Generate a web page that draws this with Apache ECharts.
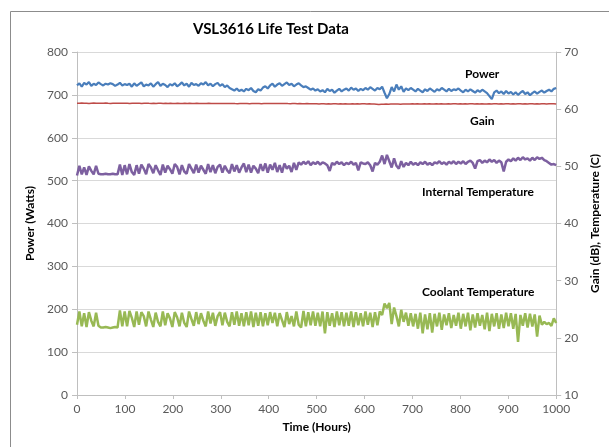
<!DOCTYPE html>
<html>
<head>
<meta charset="utf-8">
<title>VSL3616 Life Test Data</title>
<script src="https://cdn.jsdelivr.net/npm/echarts@6/dist/echarts.min.js"></script>
<style>
  html, body { margin: 0; padding: 0; background: #fff; }
  #chart { width: 609px; height: 447px; }
</style>
</head>
<body>
<div id="chart"></div>
<script>
// readings every 5 hours, 0..1000
var power = [
  722,727,719,728,724,730,721,726,723,729,725,722,726,724,727,725,721,724,728,722,725,
  723,726,719,727,721,725,729,720,724,722,727,719,725,730,721,726,723,718,725,722,
  727,720,724,729,722,726,719,728,723,725,721,727,724,730,722,726,720,725,728,721,
  725,718,722,716,713,710,715,709,712,708,714,711,716,709,706,713,710,717,720,715,
  722,726,719,724,727,721,725,729,723,726,720,724,727,722,718,720,716,712,715,710,
  713,708,711,706,714,709,712,705,710,714,708,712,715,710,717,712,715,709,714,711,
  716,712,718,714,710,716,713,719,705,692,702,718,708,724,712,720,707,715,711,716,
  712,708,714,710,706,713,709,715,711,707,713,710,716,712,708,714,709,713,711,715,
  710,706,712,708,713,709,705,711,707,712,708,704,697,690,706,710,704,708,702,709,
  703,707,701,706,700,705,709,702,706,699,704,708,703,707,710,705,709,712,708,714,716
];
var gain = [
  61.05,61.02,61.06,61.03,61.05,61.01,61.04,61.06,61.03,61.05,61.02,61.04,61.06,61.03,61.01,61.04,61.02,61.05,61.03,61.04,61.02,
  61.04,61.01,61.03,61.05,61.02,61.04,61.01,61.03,61.05,61.02,61.00,61.03,61.01,61.04,61.02,60.99,61.02,61.00,61.03,61.01,
  61.00,61.02,60.99,61.01,61.03,61.00,61.02,60.98,61.01,61.03,61.00,60.98,61.01,60.99,61.02,61.00,60.97,61.00,60.98,61.01,
  60.98,61.00,60.97,60.99,61.01,60.98,60.96,60.99,61.00,60.97,60.99,60.96,60.98,61.00,60.97,60.99,60.96,60.98,61.00,60.97,
  60.99,61.01,60.98,61.00,60.97,60.99,61.01,60.98,60.96,60.99,60.97,60.95,60.98,60.96,60.94,60.97,60.95,60.93,60.96,60.94,
  60.92,60.95,60.93,60.91,60.94,60.92,60.95,60.93,60.90,60.93,60.91,60.94,60.92,60.90,60.93,60.91,60.94,60.92,60.95,60.93,
  60.91,60.94,60.92,60.89,60.86,60.80,60.84,60.88,60.90,60.87,60.91,60.89,60.92,60.90,60.88,60.91,60.89,60.92,60.90,60.93,
  60.91,60.93,60.90,60.92,60.94,60.91,60.93,60.90,60.92,60.94,60.91,60.93,60.90,60.92,60.94,60.91,60.93,60.95,60.92,60.94,
  60.92,60.94,60.91,60.93,60.95,60.92,60.94,60.91,60.93,60.90,60.92,60.94,60.91,60.93,60.95,60.92,60.94,60.91,60.93,60.95,
  60.92,60.94,60.91,60.93,60.95,60.92,60.94,60.91,60.93,60.95,60.92,60.94,60.91,60.93,60.95,60.92,60.94,60.93,60.95,60.92
];
var internalTemp = [
  48.4,50.1,48.6,49.8,48.5,50.0,49.2,48.6,50.1,48.7,48.6,48.6,48.7,48.6,48.6,48.7,48.6,48.6,50.3,48.5,50.2,
  48.6,50.4,49.0,48.5,50.2,48.7,50.3,49.6,48.6,50.4,49.8,48.8,50.2,49.3,48.5,50.3,48.9,50.1,49.5,48.7,
  50.4,49.9,48.6,50.2,49.1,48.7,50.4,49.6,48.8,50.3,48.9,50.1,49.4,48.7,50.4,49.0,50.2,48.8,49.9,50.3,
  48.9,50.1,49.3,48.8,50.4,49.1,50.2,48.9,49.8,50.5,49.0,50.3,48.9,50.1,49.6,48.8,50.4,49.2,50.5,48.9,
  50.3,49.4,50.6,49.0,50.2,48.9,50.5,49.6,50.1,49.0,50.6,49.4,50.7,50.3,50.8,50.4,50.9,50.2,50.7,50.4,
  50.8,50.3,50.7,50.5,50.2,49.2,50.6,50.3,50.8,50.4,50.7,50.2,50.6,50.4,50.8,50.3,50.6,49.3,50.7,50.5,
  50.4,50.7,50.2,49.1,50.6,50.3,50.8,51.9,50.4,52.0,50.9,49.8,51.4,50.1,49.6,50.9,49.9,50.6,50.2,50.8,
  50.3,50.6,50.2,50.7,50.4,50.8,50.3,50.6,50.2,50.7,50.5,50.9,50.4,50.7,50.3,50.8,50.5,50.9,50.4,50.8,
  50.5,50.9,50.4,50.8,51.0,50.6,49.6,50.9,51.1,50.6,51.0,50.7,51.2,50.8,51.1,50.6,51.0,50.7,49.1,50.8,
  51.2,50.9,51.4,51.0,51.5,51.1,51.6,51.2,51.4,51.0,51.5,51.1,51.6,51.3,51.5,51.1,50.9,50.6,50.3,50.4,50.2
];
var coolantTemp = [
  22.3,24.6,22.0,24.3,21.9,24.5,23.0,22.0,24.4,22.1,21.8,21.8,21.9,21.8,21.7,21.8,21.9,21.8,24.8,22.0,24.6,
  22.0,24.7,23.5,21.9,24.6,22.3,24.5,23.8,22.0,24.6,23.2,21.9,24.4,22.8,22.0,24.6,22.2,24.3,23.4,21.9,
  24.5,23.6,22.0,24.4,22.6,21.9,24.6,23.3,22.1,24.5,22.4,24.3,23.0,22.0,24.6,22.5,24.4,22.1,23.8,24.5,
  22.2,24.4,22.8,22.0,24.5,22.3,24.6,22.1,24.3,22.0,24.5,22.2,24.6,21.9,24.4,22.1,24.5,22.0,24.3,22.2,
  24.5,22.6,24.4,22.0,24.3,23.1,21.9,24.5,22.4,23.8,22.0,24.6,22.3,21.8,24.7,22.0,24.5,22.2,24.6,22.1,
  24.4,22.0,24.6,20.8,24.5,22.1,24.3,21.9,24.6,22.2,24.5,22.0,24.4,22.1,24.6,21.9,24.5,22.2,24.3,22.0,
  24.6,22.3,24.4,21.9,24.5,22.2,24.6,24.0,26.0,25.2,26.1,22.4,25.3,23.8,22.0,24.9,22.8,24.4,22.1,24.3,
  22.0,24.2,21.6,24.4,20.8,24.1,21.5,24.3,20.9,24.2,22.0,24.4,21.4,24.1,22.2,24.3,21.7,24.0,22.1,24.4,
  21.6,24.2,22.0,24.4,21.3,24.1,21.8,24.3,22.1,24.0,21.5,24.4,21.2,24.2,22.0,24.3,21.6,24.1,21.7,24.4,
  22.0,24.3,21.6,24.2,19.3,24.0,22.1,24.3,21.8,24.2,22.0,24.1,20.2,23.9,22.3,22.8,22.4,22.6,22.1,23.4,22.6
];
var xTicks = [0, 100, 200, 300, 400, 500, 600, 700, 800, 900, 1000];
var seriesNames = ['Power', 'Gain', 'Internal Temperature', 'Coolant Temperature'];

var myChart = echarts.init(document.getElementById('chart'));

// pair each reading with its hour (even spacing over 0..1000)
function withHours(arr) {
  var last = xTicks[xTicks.length - 1];
  return arr.map(function (v, i) {
    return [i * last / (arr.length - 1), v];
  });
}

var axisText = { color: '#595959', fontSize: 12, fontFamily: 'Lato' };
var nameText = { color: '#000', fontSize: 12, fontWeight: 'bold', fontFamily: 'Lato' };
var annot = { fill: '#000', fontSize: 12, fontWeight: 'bold', fontFamily: 'Lato' };

var option = {
  animation: false,
  backgroundColor: '#fff',
  title: {
    text: 'VSL3616 Life Test Data',
    left: 188,
    top: 17,
    textStyle: { fontSize: 15, fontWeight: 'bold', color: '#000', fontFamily: 'Lato' }
  },
  grid: { left: 77, right: 48, top: 52, bottom: 52 },
  xAxis: {
    type: 'value',
    min: 0, max: 1000, interval: 100,
    name: 'Time (Hours)',
    nameLocation: 'middle',
    nameGap: 26,
    nameTextStyle: nameText,
    axisLine: { lineStyle: { color: '#bfbfbf' } },
    axisTick: { show: true, length: 4, lineStyle: { color: '#bfbfbf' } },
    axisLabel: Object.assign({ margin: 8, formatter: function (v) { return String(v); } }, axisText),
    splitLine: { show: false }
  },
  yAxis: [
    {
      type: 'value',
      min: 0, max: 800, interval: 100,
      name: 'Power (Watts)',
      nameLocation: 'middle',
      nameRotate: 90,
      nameGap: 38,
      nameTextStyle: nameText,
      axisLine: { show: true, lineStyle: { color: '#bfbfbf' } },
      axisTick: { show: true, length: 5, lineStyle: { color: '#bfbfbf' } },
      axisLabel: Object.assign({ margin: 9 }, axisText),
      splitLine: { lineStyle: { color: '#d9d9d9' } }
    },
    {
      type: 'value',
      min: 10, max: 70, interval: 10,
      name: 'Gain (dB), Temperature (C)',
      nameLocation: 'middle',
      nameRotate: 90,
      nameGap: 26,
      nameTextStyle: nameText,
      axisLine: { show: true, lineStyle: { color: '#bfbfbf' } },
      axisTick: { show: true, length: 5, lineStyle: { color: '#bfbfbf' } },
      axisLabel: Object.assign({ margin: 8 }, axisText),
      splitLine: { show: false }
    }
  ],
  series: [
    {
      name: seriesNames[0], type: 'line', yAxisIndex: 0,
      data: withHours(power), showSymbol: false,
      lineStyle: { color: '#4a7ebb', width: 2.2 }, itemStyle: { color: '#4a7ebb' }
    },
    {
      name: seriesNames[1], type: 'line', yAxisIndex: 1,
      data: withHours(gain), showSymbol: false,
      lineStyle: { color: '#be4b48', width: 1.5 }, itemStyle: { color: '#be4b48' }
    },
    {
      name: seriesNames[2], type: 'line', yAxisIndex: 1,
      data: withHours(internalTemp), showSymbol: false,
      lineStyle: { color: '#7d60a0', width: 2.5 }, itemStyle: { color: '#7d60a0' }
    },
    {
      name: seriesNames[3], type: 'line', yAxisIndex: 1,
      data: withHours(coolantTemp), showSymbol: false,
      lineStyle: { color: '#98b954', width: 2.5 }, itemStyle: { color: '#98b954' }
    }
  ],
  graphic: [
    { type: 'rect', left: 8, top: 9, shape: { width: 640, height: 480 }, style: { fill: 'none', stroke: '#8c8c8c', lineWidth: 1 }, silent: true },
    { type: 'text', left: 465, top: 68, style: Object.assign({ text: seriesNames[0] }, annot) },
    { type: 'text', left: 470, top: 115, style: Object.assign({ text: seriesNames[1] }, annot) },
    { type: 'text', left: 422, top: 186, style: Object.assign({ text: seriesNames[2] }, annot) },
    { type: 'text', left: 422, top: 286, style: Object.assign({ text: seriesNames[3] }, annot) }
  ]
};

myChart.setOption(option);
</script>
</body>
</html>
